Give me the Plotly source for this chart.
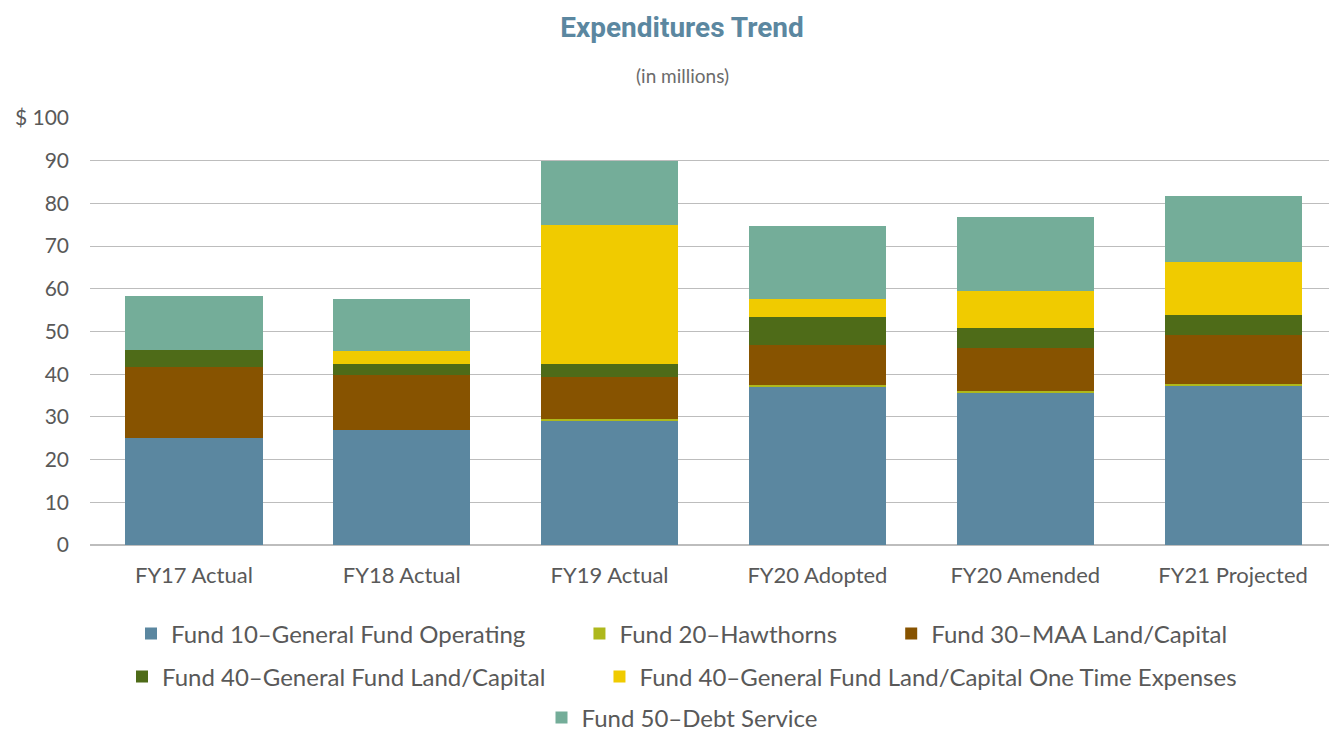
import plotly.graph_objects as go

categories = ["FY17 Actual", "FY18 Actual", "FY19 Actual", "FY20 Adopted", "FY20 Amended", "FY21 Projected"]
fund10 = [25.0, 26.9, 29.0, 37.1, 35.7, 37.2]
fund20 = [0.0, 0.0, 0.6, 0.4, 0.4, 0.5]
fund30 = [16.6, 12.9, 9.7, 9.3, 10.1, 11.5]
fund40 = [4.1, 2.6, 3.1, 6.6, 4.6, 4.7]
fund40_onetime = [0.0, 3.0, 32.5, 4.2, 8.7, 12.4]
fund50 = [12.6, 12.2, 15.0, 17.1, 17.3, 15.4]

names = [
    "Fund 10\u2013General Fund Operating",
    "Fund 20\u2013Hawthorns",
    "Fund 30\u2013MAA Land/Capital",
    "Fund 40\u2013General Fund Land/Capital",
    "Fund 40\u2013General Fund Land/Capital One Time Expenses",
    "Fund 50\u2013Debt Service",
]
values = [fund10, fund20, fund30, fund40, fund40_onetime, fund50]
colors = ["#5B87A0", "#AEB81C", "#875300", "#4E6B18", "#F0CB00", "#74AD99"]
legend_rows = ["legend", "legend", "legend", "legend2", "legend2", "legend3"]
last_in_row = [False, False, True, False, True, True]

tick_vals = [0, 10, 20, 30, 40, 50, 60, 70, 80, 90, 100]
tick_text = ["0", "10", "20", "30", "40", "50", "60", "70", "80", "90", "$ 100"]

PAD = "\u00a0" * 8

fig = go.Figure()
for name, vals, color, lg, last in zip(names, values, colors, legend_rows, last_in_row):
    fig.add_trace(go.Bar(
        x=categories, y=vals, name=name + ("" if last else PAD),
        marker=dict(color=color, line=dict(width=0)),
        legend=lg,
    ))

font_family = "Lato, 'Open Sans', sans-serif"
W, H = 1329, 726
L, R, T, B = 82, 0, 110, 189
plot_h = H - T - B
plot_w = W - L - R
legend_x = (674 - L) / plot_w


def leg_y(page_y):
    return -((page_y - 8) - (H - B)) / plot_h


legend_common = dict(orientation="h", x=legend_x, xanchor="center", yanchor="middle",
                     font=dict(size=24, family=font_family, color="#595959"),
                     bgcolor="rgba(0,0,0,0)", traceorder="normal")

fig.update_layout(
    barmode="stack",
    bargap=0.34,
    width=W, height=H,
    margin=dict(l=L, r=R, t=T, b=B, autoexpand=False),
    paper_bgcolor="white", plot_bgcolor="white",
    font=dict(family=font_family, color="#595959", size=22),
    title=dict(text="<b>Expenditures Trend</b>", x=(682 - 8) / W, xanchor="center",
               y=1 - 19 / H, yanchor="middle",
               font=dict(family="'Liberation Sans Narrow', Roboto, sans-serif", size=28, color="#5B87A0")),
    annotations=[dict(text="(in millions)", xref="paper", yref="paper", x=(674 - L) / plot_w,
                      y=1.0 + (118 - 75) / plot_h,
                      xanchor="center", yanchor="middle", showarrow=False,
                      font=dict(family=font_family, size=19, color="#6b6b6b"))],
    yaxis=dict(range=[0, 100], tickvals=tick_vals, ticktext=tick_text, showgrid=True,
               gridcolor="#BDBDBD", gridwidth=1, zeroline=True, zerolinecolor="#BDBDBD",
               ticks="", ticklabelstandoff=20, tickfont=dict(size=21), fixedrange=True),
    xaxis=dict(showgrid=False, ticks="", tickfont=dict(size=22), ticklabelstandoff=15),
    legend=dict(legend_common, y=leg_y(634)),
    legend2=dict(legend_common, y=leg_y(677)),
    legend3=dict(legend_common, y=leg_y(718)),
    showlegend=True,
)

fig.write_html("out.html")
